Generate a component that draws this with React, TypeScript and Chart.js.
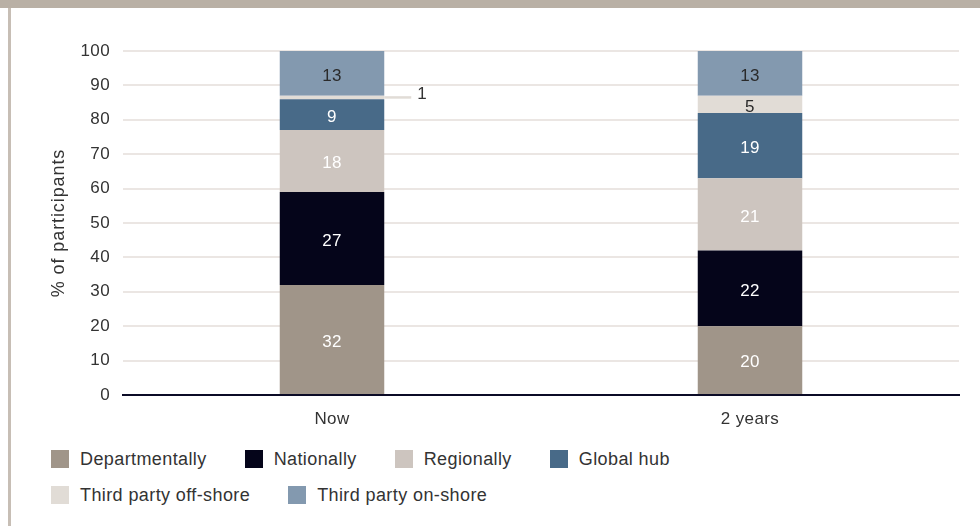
import React, { useEffect, useRef } from "react";
import { Chart, registerables } from "chart.js";

Chart.register(...registerables);

const categories = ["Now", "2 years"];
const seriesNames = [
  "Departmentally",
  "Nationally",
  "Regionally",
  "Global hub",
  "Third party off-shore",
  "Third party on-shore",
];
const departmentally = [32, 20];
const nationally = [27, 22];
const regionally = [18, 21];
const globalHub = [9, 19];
const thirdPartyOffshore = [1, 5];
const thirdPartyOnshore = [13, 13];
const yTickValues = [0, 10, 20, 30, 40, 50, 60, 70, 80, 90, 100];
const yAxisTitle = "% of participants";

const seriesValues = [
  departmentally,
  nationally,
  regionally,
  globalHub,
  thirdPartyOffshore,
  thirdPartyOnshore,
];
const seriesColors = ["#a09589", "#05051a", "#cdc5bf", "#486a88", "#e1dcd6", "#8399af"];
const labelColors = ["#ffffff", "#ffffff", "#ffffff", "#ffffff", "#2a2a2a", "#2a2a2a"];

const FONT = "'Liberation Sans', Arial, Helvetica, sans-serif";
const TEXT = "#333333";

const spacing = {
  id: "spacing",
  beforeDraw(chart: any) {
    chart.ctx.letterSpacing = "0.4px";
  },
};

const yTitle = {
  id: "yTitle",
  afterDraw(chart: any) {
    const ctx = chart.ctx;
    const a = chart.chartArea;
    ctx.save();
    ctx.letterSpacing = "0.9px";
    ctx.font = `18px ${FONT}`;
    ctx.fillStyle = TEXT;
    ctx.textAlign = "center";
    ctx.textBaseline = "middle";
    ctx.translate(59, (a.top + a.bottom) / 2);
    ctx.rotate(-Math.PI / 2);
    ctx.fillText(yAxisTitle, 0, 0);
    ctx.restore();
  },
};

const segLabels = {
  id: "segLabels",
  afterDatasetsDraw(chart: any) {
    const ctx = chart.ctx;
    ctx.save();
    ctx.letterSpacing = "0.4px";
    ctx.font = `17px ${FONT}`;
    ctx.textBaseline = "middle";
    chart.data.datasets.forEach((ds: any, di: number) => {
      const meta = chart.getDatasetMeta(di);
      meta.data.forEach((bar: any, i: number) => {
        const v = ds.data[i];
        const p = bar.getProps(["x", "y", "base", "width"], true);
        const cy = (p.y + p.base) / 2;
        if (Math.abs(p.base - p.y) < 12) {
          const x0 = p.x + p.width / 2;
          ctx.strokeStyle = ds.backgroundColor;
          ctx.lineWidth = 2.5;
          ctx.beginPath();
          ctx.moveTo(x0, cy);
          ctx.lineTo(x0 + 27, cy);
          ctx.stroke();
          ctx.fillStyle = TEXT;
          ctx.textAlign = "left";
          ctx.fillText(String(v), x0 + 33, cy - 3);
        } else {
          ctx.fillStyle = labelColors[di];
          ctx.textAlign = "center";
          ctx.fillText(String(v), p.x, cy + 2.5);
        }
      });
    });
    ctx.restore();
  },
};

export default function App() {
  const ref = useRef<HTMLCanvasElement | null>(null);

  useEffect(() => {
    if (!ref.current) return;
    const chart = new Chart(ref.current, {
      type: "bar",
      data: {
        labels: categories,
        datasets: seriesNames.map((name, i) => ({
          label: name,
          data: seriesValues[i],
          backgroundColor: seriesColors[i],
          borderWidth: 0,
          barPercentage: 0.5,
          categoryPercentage: 0.5,
        })),
      },
      options: {
        animation: false,
        responsive: false,
        maintainAspectRatio: false,
        layout: { padding: { top: 51, right: 21, bottom: 5, left: 0 } },
        plugins: {
          legend: { display: false },
          tooltip: { enabled: false },
        },
        scales: {
          x: {
            stacked: true,
            grid: { display: false, drawTicks: false },
            border: { display: true, color: "#0b0b26", width: 2 },
            ticks: { color: TEXT, font: { family: FONT, size: 17 }, padding: 14 },
            afterFit: (s: any) => {
              s.height = 40;
            },
          },
          y: {
            stacked: true,
            min: 0,
            max: 100,
            afterBuildTicks: (s: any) => {
              s.ticks = yTickValues.map((v) => ({ value: v }));
            },
            grid: { color: "#ebe6e3", lineWidth: 2, drawTicks: false },
            border: { display: false },
            ticks: { color: TEXT, font: { family: FONT, size: 17 }, padding: 13 },
            afterFit: (s: any) => {
              s.width = 123;
            },
          },
        },
      },
      plugins: [spacing, segLabels, yTitle],
    });
    return () => chart.destroy();
  }, []);

  const legendRows = [
    [0, 1, 2, 3],
    [4, 5],
  ];

  return (
    <div
      style={{
        position: "fixed",
        left: 0,
        top: 0,
        width: 980,
        height: 526,
        background: "#ffffff",
        overflow: "hidden",
        fontFamily: FONT,
      }}
    >
      <canvas
        ref={ref}
        width={980}
        height={440}
        style={{ position: "absolute", left: 0, top: 0, width: 980, height: 440 }}
      />
      <div style={{ position: "absolute", left: 0, top: 0, width: 980, height: 8, background: "#b9b0a5" }} />
      <div style={{ position: "absolute", left: 8, top: 8, width: 3, height: 518, background: "#c7beb5" }} />
      {legendRows.map((row, ri) => (
        <div
          key={ri}
          style={{
            position: "absolute",
            left: 51,
            top: 450 + ri * 36,
            height: 18,
            display: "flex",
            alignItems: "center",
            gap: 38,
            whiteSpace: "nowrap",
          }}
        >
          {row.map((i) => (
            <div key={i} style={{ display: "flex", alignItems: "center" }}>
              <span
                style={{
                  display: "inline-block",
                  width: 18,
                  height: 18,
                  background: seriesColors[i],
                  marginRight: 11,
                }}
              />
              <span style={{ fontSize: 18, letterSpacing: "0.4px", color: TEXT, lineHeight: "18px" }}>
                {seriesNames[i]}
              </span>
            </div>
          ))}
        </div>
      ))}
    </div>
  );
}
